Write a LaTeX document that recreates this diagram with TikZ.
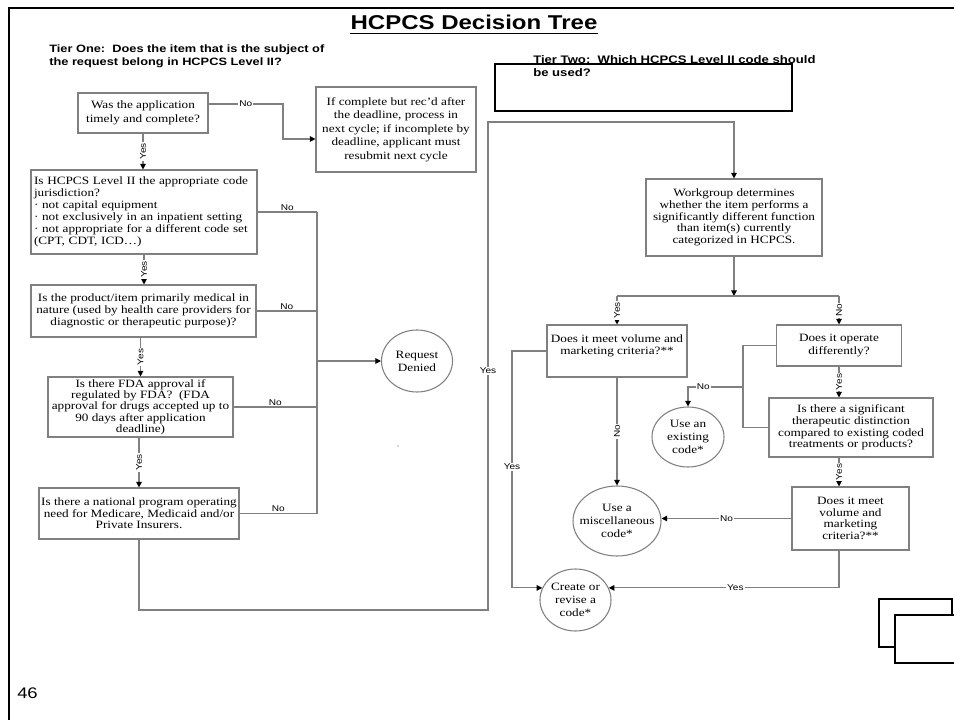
\documentclass[tikz,border=0pt]{standalone}
\usepackage{fontspec}
\setmainfont{Liberation Serif}
\newfontfamily\boxfont{Liberation Serif}[FakeStretch=1.18]
\newfontfamily\headfont{Liberation Sans}[FakeStretch=1.2]
\usetikzlibrary{arrows.meta,shapes.geometric}

\definecolor{edgegray}{RGB}{128,128,128}

\tikzset{
  sz/.style 2 args={minimum width=#1*0.75pt, minimum height=#2*0.75pt},
  qbox/.style={draw=edgegray, line width=0.8pt, fill=white, inner sep=1.5pt, align=center,
    font={\boxfont\fontsize{8.4}{9}\selectfont}},
  oval/.style={ellipse, draw=edgegray, line width=0.8pt, fill=white, inner sep=0pt},
  ovaltext/.style={align=center, inner sep=0pt, font={\boxfont\fontsize{8.4}{9.6}\selectfont}},
  link/.style={draw=edgegray, line width=0.8pt},
  arr/.style={link, -{Triangle[length=4.2pt,width=4.2pt,color=black]}},
  lbl/.style={font={\headfont\fontsize{6.3}{7}\selectfont}, fill=white, inner sep=0.8pt},
  nolbl/.style={font={\headfont\fontsize{6.3}{7}\selectfont}, inner sep=1pt, above},
  tiertext/.style={anchor=north west, align=left, inner sep=0pt,
    font={\headfont\bfseries\fontsize{8}{9.4}\selectfont}},
}

\begin{document}
\begin{tikzpicture}[x=0.75pt,y=-0.75pt]
\useasboundingbox (0,0) rectangle (954,720);

% slide frame
\draw[line width=2.2pt] (9,720) -- (9,8) -- (954,8);

% headings
\node[font={\headfont\bfseries\fontsize{15}{16}\selectfont}, inner sep=0pt, anchor=base] (title) at (474,30) {HCPCS Decision Tree};
\draw[line width=1.4pt] ([yshift=-2.6pt]title.base west) -- ([yshift=-2.6pt]title.base east);

\node[tiertext] (tier1) at (49,45) {Tier One:\ \ Does the item that is the subject of\\the request belong in HCPCS Level II?};
\node[tiertext, font={\headfont\bfseries\fontsize{8.2}{9.4}\selectfont}] (tier2) at (533,55.5) {Tier Two:\ \ Which HCPCS Level II code should\\be used?};
\node[draw, line width=1pt, sz={297}{47}, inner sep=0pt] (tier2frame) at (643.5,87.5) {};

% ---------------- Tier One ----------------
\node[qbox, sz={130}{40}, font={\boxfont\fontsize{8.4}{10.4}\selectfont}] (b1) at (143,113) {Was the application\\timely and complete?};
\node[qbox, sz={160}{85}, font={\boxfont\fontsize{8.4}{10.2}\selectfont}] (b2) at (396,129.5) {If complete but rec’d after\\the deadline, process in\\next cycle; if incomplete by\\deadline, applicant must\\resubmit next cycle};
\node[qbox, sz={226}{84}, align=left, text width=165pt, inner xsep=1.5pt] (b3) at (144,212) {Is HCPCS Level II the appropriate code\\jurisdiction?\\· not capital equipment\\· not exclusively in an inpatient setting\\· not appropriate for a different code set\\(CPT, CDT, ICD…)};
\node[qbox, sz={225}{52}] (b4) at (143.5,311) {Is the product/item primarily medical in\\nature (used by health care providers for\\diagnostic or therapeutic purpose)?};
\node[qbox, sz={185}{60}, font={\boxfont\fontsize{8.4}{8.5}\selectfont}] (b5) at (140.5,407) {Is there FDA approval if\\regulated by FDA?\ \ (FDA\\approval for drugs accepted up to\\90 days after application\\deadline)};
\node[qbox, sz={200}{51}, font={\boxfont\fontsize{8.4}{8.6}\selectfont}] (b6) at (139,513.5) {Is there a national program operating\\need for Medicare, Medicaid and/or\\Private Insurers.};
\node[oval, sz={71}{62}] (rd) at (417,361) {};
\node[ovaltext] (rd-t) at (rd) {Request\\Denied};

\fill[black!70] (398,446) circle (0.7);

% ---------------- Tier Two ----------------
\node[qbox, sz={176}{77}, font={\boxfont\fontsize{8.4}{8.7}\selectfont}] (wg) at (734,217.5) {Workgroup determines\\whether the item performs a\\significantly different function\\than item(s) currently\\categorized in HCPCS.};
\node[qbox, sz={140}{52}, font={\boxfont\fontsize{8.4}{9.6}\selectfont}] (r1) at (617,351) {Does it meet volume and\\marketing criteria?**\\\mbox{}};
\node[qbox, sz={125}{41}, font={\boxfont\fontsize{8.4}{9.6}\selectfont}] (r2) at (839,345.5) {Does it operate\\differently?};
\node[qbox, sz={164}{59}, font={\boxfont\fontsize{8.4}{8.7}\selectfont}] (r3) at (851,427.5) {Is there a significant\\therapeutic distinction\\compared to existing coded\\treatments or products?};
\node[qbox, sz={117}{63}, font={\boxfont\fontsize{8.4}{8.6}\selectfont}] (r4) at (850.5,518.5) {Does it meet\\volume and\\marketing\\criteria?**};
\node[oval, sz={72}{60}] (ex) at (688,437) {};
\node[ovaltext] (ex-t) at (ex) {Use an\\existing\\code*};
\node[oval, sz={88}{70}] (misc) at (617,521) {};
\node[ovaltext] (misc-t) at (misc) {Use a\\miscellaneous\\code*};
\node[oval, sz={71}{62}] (cr) at (575.5,600) {};
\node[ovaltext] (cr-t) at (cr) {Create or\\revise a\\code*};

% ---------------- connectors, Tier One ----------------
\coordinate (n1) at (283,104);
\coordinate (n1b) at (283,139);
\draw[arr] (b1.east |- n1) -- node[lbl]{No} (n1) -- (n1b) -- (b2.west |- n1b);
\draw[arr] (b1.south) -- node[lbl, rotate=90]{Yes} (b1.south |- b3.north);
\draw[arr] (b3.south) -- node[lbl, rotate=90]{Yes} (b3.south |- b4.north);
\draw[arr] (b4.south -| b5.north) -- node[lbl, rotate=90]{Yes} (b5.north);
\draw[arr] (b5.south -| b6.north) -- node[lbl, rotate=90]{Yes} (b6.north);

\coordinate (bus) at (317,0);
\draw[link] (b3.east) -- node[nolbl]{No} (b3.east -| bus);
\draw[link] (b4.east) -- node[nolbl]{No} (b4.east -| bus);
\draw[link] (b5.east) -- node[nolbl]{No} (b5.east -| bus);
\draw[link] (b6.east) -- node[nolbl]{No} (b6.east -| bus);
\draw[link] (b3.east -| bus) -- (b6.east -| bus);
\draw[arr] (rd.west -| bus) -- (rd.west);

% from Tier One to Tier Two
\coordinate (low) at (0,610);
\coordinate (up) at (488,122);
\draw[arr] (b6.south) -- (b6.south |- low) -- (low -| up) -- node[lbl, pos=0.49]{Yes} (up) -- (up -| wg.north) -- (wg.north);

% ---------------- connectors, Tier Two ----------------
\coordinate (j) at (734,296);
\draw[arr] (wg.south) -- (j);
\draw[link] (r1.north |- j) -- (r2.north |- j);
\draw[arr] (r1.north |- j) -- node[lbl, rotate=90]{Yes} (r1.north);
\draw[arr] (r2.north |- j) -- node[lbl, rotate=90]{No} (r2.north);
\draw[arr] (r2.south) -- node[lbl, rotate=90]{Yes} (r2.south |- r3.north);
\draw[arr] (r3.south -| r2.south) -- node[lbl, rotate=90]{Yes} (r4.north -| r2.south);

\coordinate (kx) at (743,387);
\draw[link] (r2.west) -- (r2.west -| kx) -- (r3.west -| kx) -- (r3.west);
\draw[arr] (kx) -- node[lbl, pos=0.72]{No} (kx -| ex.north) -- (ex.north);

\draw[arr] (r1.south) -- node[lbl, rotate=90]{No} (r1.south |- misc.north);
\coordinate (lx) at (512,0);
\draw[arr] (r1.west) -- (r1.west -| lx) -- node[lbl, pos=0.49]{Yes} (cr.160 -| lx) -- (cr.160);
\draw[arr] (r4.west) -- node[lbl]{No} (r4.west -| misc.east);
\draw[arr] (r4.south -| r2.south) -- (r2.south |- cr.20) -- node[lbl, pos=0.45]{Yes} (cr.20);

% stacked sheets, lower right
\draw[line width=1pt, fill=white] (879,599) rectangle (952,647);
\draw[line width=1pt, fill=white] (960,615) -- (895,615) -- (895,663) -- (960,663);

% slide number
\node[anchor=west, inner sep=0pt, font={\headfont\fontsize{11.5}{12}\selectfont}] (pagenum) at (17,693) {46};
\end{tikzpicture}
\end{document}
